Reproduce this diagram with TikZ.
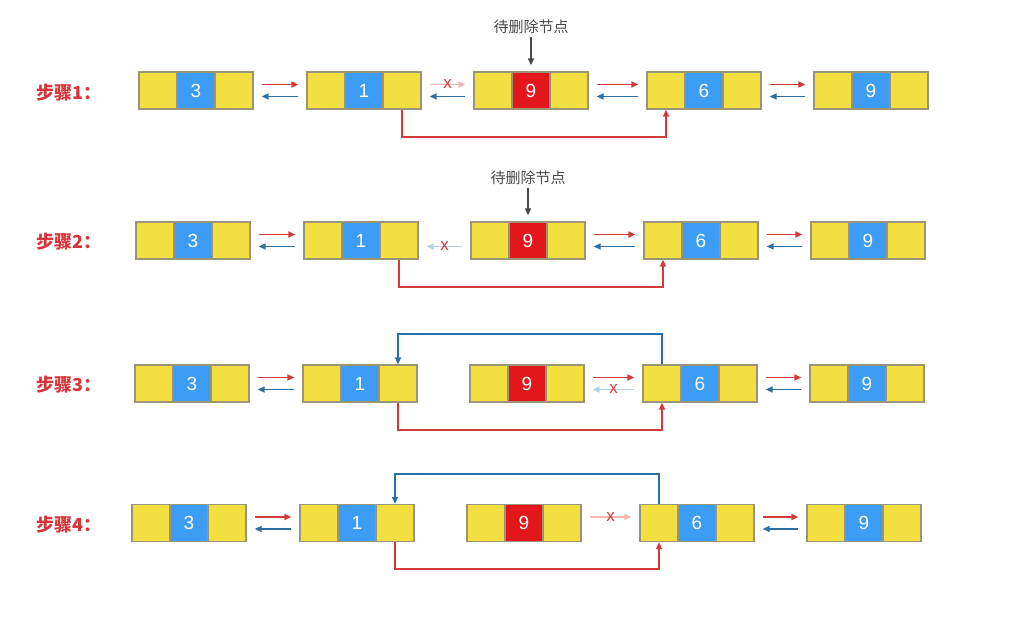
\documentclass[tikz,border=0pt]{standalone}
\usepackage{fontspec}
\setmainfont{Liberation Sans}
\newfontfamily\cjk{Noto Sans CJK SC}
\usetikzlibrary{arrows.meta}
\definecolor{cy}{HTML}{F3DF3F}
\definecolor{cb}{HTML}{3D9CF3}
\definecolor{cr}{HTML}{E3161C}
\definecolor{cborder}{HTML}{9A9478}
\definecolor{ared}{HTML}{D33A3A}
\definecolor{ablue}{HTML}{2C6FA3}
\definecolor{fred}{HTML}{F2B6B6}
\definecolor{fblue}{HTML}{B5D1E6}
\definecolor{cx}{HTML}{D8383C}
\definecolor{lblred}{HTML}{D6353B}
\definecolor{lblgray}{HTML}{4A4A4A}
\tikzset{
  cell/.style={draw=cborder, line width=1.3pt, minimum width=38pt, minimum height=37pt,
    inner sep=0pt, font=\fontsize{19}{19}\selectfont, text=white},
  ycell/.style={cell, fill=cy},
  bcell/.style={cell, fill=cb},
  rcell/.style={cell, fill=cr},
  tip/.style={-{Triangle[length=7pt,width=6pt]}},
  redarr/.style={tip, draw=ared, line width=1.8pt},
  bluearr/.style={tip, draw=ablue, line width=1.8pt},
  fredarr/.style={tip, draw=fred, line width=1.8pt},
  fbluearr/.style={tip, draw=fblue, line width=1.8pt},
  graytip/.style={tip, draw=lblgray, line width=1.3pt},
  xmark/.style={inner sep=0pt, text=cx, font=\fontsize{17}{17}\selectfont},
  steplabel/.style={anchor=west, inner sep=0pt, text=lblred, font=\cjk\bfseries\fontsize{18}{18}\selectfont},
  dellabel/.style={inner sep=0pt, text=lblgray, font=\cjk\fontsize{15}{15}\selectfont},
}
\newcommand\llnode[5]{%
  \node[ycell] (#1l) at (#2+19,#3) {};
  \node[#5] (#1m) at (#2+57,#3) {#4};
  \node[ycell] (#1r) at (#2+95,#3) {};
}
\newcommand\fwdarr[3]{\draw[#3] ([xshift=8pt,yshift=6pt]#1r.east) -- ([xshift=-8pt,yshift=6pt]#2l.west);}
\newcommand\bckarr[3]{\draw[#3] ([xshift=-8pt,yshift=-6pt]#2l.west) -- ([xshift=8pt,yshift=-6pt]#1r.east);}
\newcommand\fwdx[2]{\draw[fredarr] ([xshift=8pt,yshift=6pt]#1r.east) -- node[xmark]{x} ([xshift=-8pt,yshift=6pt]#2l.west);}
\newcommand\bckx[2]{\draw[fbluearr] ([xshift=-8pt,yshift=-6pt]#2l.west) -- node[xmark]{x} ([xshift=8pt,yshift=-6pt]#1r.east);}
\begin{document}
\begin{tikzpicture}[x=1pt,y=-1pt]
\path[fill=white, use as bounding box] (0,0) rectangle (1024,620);

% ---------- Row 1 ----------
\llnode{a1}{139}{90.5}{3}{bcell}
\llnode{a2}{307}{90.5}{1}{bcell}
\llnode{a3}{474}{90.5}{9}{rcell}
\llnode{a4}{647}{90.5}{6}{bcell}
\llnode{a5}{814}{90.5}{9}{bcell}
\node[steplabel] (s1) at (36,92.5) {步骤1：};
\fwdarr{a1}{a2}{redarr}\bckarr{a1}{a2}{bluearr}
\fwdx{a2}{a3}\bckarr{a2}{a3}{bluearr}
\fwdarr{a3}{a4}{redarr}\bckarr{a3}{a4}{bluearr}
\fwdarr{a4}{a5}{redarr}\bckarr{a4}{a5}{bluearr}
\draw[redarr] (a2r.south) -- ++(0,27) -| (a4l.south);
\node[dellabel] (d1) at ([yshift=45pt]a3m.north) {待删除节点};
\draw[graytip, shorten <=3pt] (d1.south) -- ([yshift=6pt]a3m.north);

% ---------- Row 2 ----------
\llnode{b1}{136}{240.5}{3}{bcell}
\llnode{b2}{304}{240.5}{1}{bcell}
\llnode{b3}{471}{240.5}{9}{rcell}
\llnode{b4}{644}{240.5}{6}{bcell}
\llnode{b5}{811}{240.5}{9}{bcell}
\node[steplabel] (s2) at (36,242) {步骤2：};
\fwdarr{b1}{b2}{redarr}\bckarr{b1}{b2}{bluearr}
\bckx{b2}{b3}
\fwdarr{b3}{b4}{redarr}\bckarr{b3}{b4}{bluearr}
\fwdarr{b4}{b5}{redarr}\bckarr{b4}{b5}{bluearr}
\draw[redarr] (b2r.south) -- ++(0,27) -| (b4l.south);
\node[dellabel] (d2) at ([yshift=44pt]b3m.north) {待删除节点};
\draw[graytip, shorten <=3pt] (d2.south) -- ([yshift=6pt]b3m.north);

% ---------- Row 3 ----------
\llnode{c1}{135}{383.5}{3}{bcell}
\llnode{c2}{303}{383.5}{1}{bcell}
\llnode{c3}{470}{383.5}{9}{rcell}
\llnode{c4}{643}{383.5}{6}{bcell}
\llnode{c5}{810}{383.5}{9}{bcell}
\node[steplabel] (s3) at (36,385) {步骤3：};
\fwdarr{c1}{c2}{redarr}\bckarr{c1}{c2}{bluearr}
\fwdarr{c3}{c4}{redarr}\bckx{c3}{c4}
\fwdarr{c4}{c5}{redarr}\bckarr{c4}{c5}{bluearr}
\draw[redarr] (c2r.south) -- ++(0,27) -| (c4l.south);
\draw[bluearr] (c4l.north) -- ++(0,-30) -| (c2r.north);

% ---------- Row 4 ----------
\llnode{e1}{132}{523}{3}{bcell}
\llnode{e2}{300}{523}{1}{bcell}
\llnode{e3}{467}{523}{9}{rcell}
\llnode{e4}{640}{523}{6}{bcell}
\llnode{e5}{807}{523}{9}{bcell}
\node[steplabel] (s4) at (36,524.5) {步骤4：};
\fwdarr{e1}{e2}{redarr}\bckarr{e1}{e2}{bluearr}
\fwdx{e3}{e4}
\fwdarr{e4}{e5}{redarr}\bckarr{e4}{e5}{bluearr}
\draw[redarr] (e2r.south) -- ++(0,27) -| (e4l.south);
\draw[bluearr] (e4l.north) -- ++(0,-30) -| (e2r.north);
\end{tikzpicture}
\end{document}
